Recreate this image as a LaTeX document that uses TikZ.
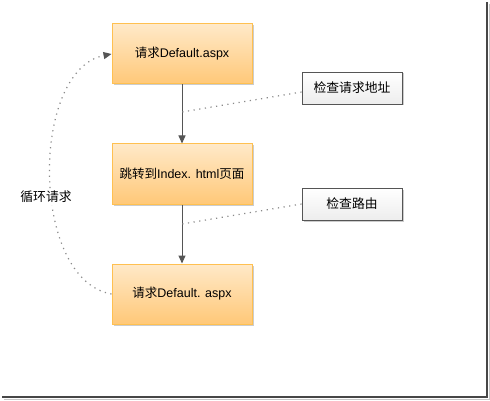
\documentclass[tikz,border=0pt]{standalone}
\usepackage{fontspec}
\setmainfont{Liberation Sans}
\newfontfamily\cjk{Noto Sans CJK SC}
\usetikzlibrary{arrows.meta,shadows}
\definecolor{boxtop}{HTML}{FFE9C8}
\definecolor{boxbot}{HTML}{FFC878}
\definecolor{boxline}{HTML}{FFC050}
\definecolor{lineclr}{HTML}{555555}
\definecolor{dotclr}{HTML}{8A8A8A}
\begin{document}
\begin{tikzpicture}[x=1pt,y=-1pt,
  stepbox/.style={draw=boxline, line width=1pt, top color=boxtop, bottom color=boxbot,
    minimum width=140pt, minimum height=60pt, inner sep=0pt,
    font=\fontsize{12.5}{15}\selectfont,
    drop shadow={shadow xshift=1.5pt,shadow yshift=-1.5pt,opacity=0.2,fill=black}},
  notebox/.style={draw=lineclr, line width=0.9pt, top color=white, bottom color=gray!14,
    minimum width=100pt, minimum height=32pt, inner sep=0pt,
    font=\fontsize{12.8}{15}\selectfont,
    drop shadow={shadow xshift=1.5pt,shadow yshift=-1.5pt,opacity=0.2,fill=black}},
  flow/.style={draw=lineclr, line width=1pt, -{Triangle[length=8pt,width=7pt,color=lineclr]}},
  dotline/.style={draw=dotclr, line width=1.2pt, dash pattern=on 1.2pt off 4.5pt},
  lbl/.style={fill=white, inner sep=2pt, font=\fontsize{12.8}{15}\selectfont},
]
\useasboundingbox (0,0) rectangle (490,401);
\fill[white] (0,0) rectangle (490,401);
% frame
\draw[gray!45, line width=1.5pt] (4,399.5) -- (489.5,399.5) -- (489.5,4);
\draw[black!72, line width=2pt] (2,397) -- (487,397) -- (487,2);

\node[stepbox] (a) at (182,54) {{\cjk 请求}Default.aspx};
\node[stepbox] (b) at (182,174) {{\cjk 跳转到}Index. html{\cjk 页面}};
\node[stepbox] (c) at (182,294) {{\cjk 请求}Default. aspx};
\node[notebox] (n1) at (352,88) {\cjk 检查请求地址};
\node[notebox] (n2) at (352,204) {\cjk 检查路由};

\draw[flow] (a) -- (b);
\draw[flow] (b) -- (c);

\coordinate (m1) at (182,112);
\coordinate (m2) at (182,224);
\draw[dotline] ([yshift=-4pt]n1.west) -- (m1);
\draw[dotline] (n2.west) -- (m2);

\draw[dotline, -{Triangle[length=8pt,width=7pt,color=lineclr]}] (c.west) .. controls (30,280) and (30,70) .. (a.west);
\node[lbl] (loop) at (46,197) {\cjk 循环请求};
\end{tikzpicture}
\end{document}
